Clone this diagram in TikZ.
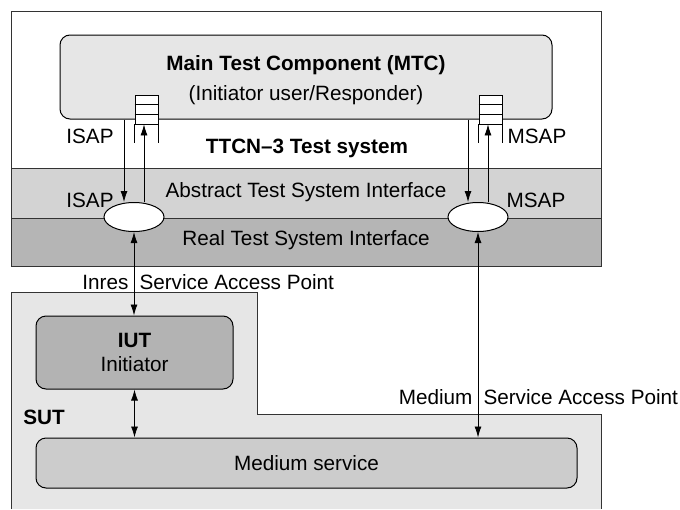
\documentclass[tikz,border=0pt]{standalone}
\usepackage{fontspec}
\setmainfont{Liberation Sans}
\usetikzlibrary{positioning,shapes.geometric,arrows.meta}
\definecolor{palegray}{HTML}{E6E6E6}
\definecolor{bandgray}{HTML}{D3D3D3}
\definecolor{realgray}{HTML}{B5B5B5}
\definecolor{iutgray}{HTML}{B3B3B3}
\definecolor{medgray}{HTML}{CCCCCC}
\definecolor{edgegray}{HTML}{333333}

\begin{document}
\begin{tikzpicture}[x=1pt,y=-1pt,
  font=\fontsize{20.7}{24.8}\selectfont,
  box/.style={draw,line width=1pt,rounded corners=10pt,inner sep=0pt},
  queue/.style={draw,fill=white,line width=0.8pt,minimum width=23pt,minimum height=29pt,inner sep=0pt},
  sap/.style={draw,ellipse,fill=white,line width=1pt,minimum width=60pt,minimum height=29pt,inner sep=0pt},
  arr/.style={line width=0.8pt,-{Latex[length=11pt,width=7pt]}},
  darr/.style={line width=0.8pt,{Latex[length=11pt,width=7pt]}-{Latex[length=11pt,width=7pt]}}]
  \useasboundingbox (0,0) rectangle (680,509);
  % test system
  \draw[edgegray,line width=0.8pt] (11,11) rectangle (601,266);
  \draw[edgegray,line width=0.8pt,fill=bandgray] (11,168) rectangle (601,218);
  \draw[edgegray,line width=0.8pt,fill=realgray] (11,218) rectangle (601,266);
  \node (ttcn) at (307,148) {\textbf{TTCN--3 Test system}};
  \node (atsi) at (306,192) {Abstract Test System Interface};
  \node (rtsi) at (306,240) {Real Test System Interface};
  % MTC
  \node[box,fill=palegray,minimum width=492pt,minimum height=84pt] (mtc) at (306,77) {};
  \node (mtctitle) at (306,65) {\textbf{Main Test Component (MTC)}};
  \node (mtcsub) at (306,95) {(Initiator user/Responder)};
  \node[queue] (isapq) at (146.5,109.5) {};
  \node[queue] (msapq) at (490.5,109.5) {};
  \foreach \q in {isapq,msapq} {
    \draw[line width=0.8pt] ([yshift=4.8pt]\q.west) -- ([yshift=4.8pt]\q.east);
    \draw[line width=0.8pt] ([yshift=-4.8pt]\q.west) -- ([yshift=-4.8pt]\q.east);
    \draw[line width=0.8pt] (\q.south west) -- ++(0,19);
    \draw[line width=0.8pt] (\q.south east) -- ++(0,19);
  }
  % ports
  \node[sap] (isap) at (134,217) {};
  \node[sap] (msap) at (478,217) {};
  \draw[arr] ([xshift=-10pt]isap.north |- mtc.south) -- ([xshift=-10pt]isap.north);
  \draw[arr] ([xshift=10pt]isap.north) -- ([xshift=10pt]isap.north |- isapq.south);
  \draw[arr] ([xshift=-10pt]msap.north |- mtc.south) -- ([xshift=-10pt]msap.north);
  \draw[arr] ([xshift=10pt]msap.north) -- ([xshift=10pt]msap.north |- msapq.south);
  \node (isapt) at (90,136) {ISAP};
  \node (isapb) at (90,200) {ISAP};
  \node (msapt) at (537,136) {MSAP};
  \node (msapb) at (536,200) {MSAP};
  % SUT
  \fill[palegray] (11,292) -- (257,292) -- (257,414) -- (601,414) -- (601,509) -- (11,509) -- cycle;
  \draw[edgegray,line width=0.8pt] (11,509) -- (11,292) -- (257,292) -- (257,414) -- (601,414) -- (601,509);
  \node (sut) at (44,417) {\textbf{SUT}};
  \node[box,fill=iutgray,minimum width=197pt,minimum height=73pt,align=center] (iut) at (134.5,352.5) {\textbf{IUT}\\Initiator};
  \node[box,fill=medgray,minimum width=541pt,minimum height=50pt] (medium) at (306.5,463) {Medium service};
  \draw[darr] (isap.south) -- (isap.south |- iut.north);
  \draw[darr] (msap.south) -- (msap.south |- medium.north);
  \draw[darr] (iut.south) -- (iut.south |- medium.north);
  % access point labels
  \coordinate (ipt) at (isap.south |- 0,282);
  \node[left=2pt of ipt] (inres) {Inres};
  \node[right=2pt of ipt] (inresap) {Service Access Point};
  \coordinate (mpt) at (msap.south |- 0,397);
  \node[left=2pt of mpt] (med) {Medium};
  \node[right=2pt of mpt] (medap) {Service Access Point};
\end{tikzpicture}
\end{document}
